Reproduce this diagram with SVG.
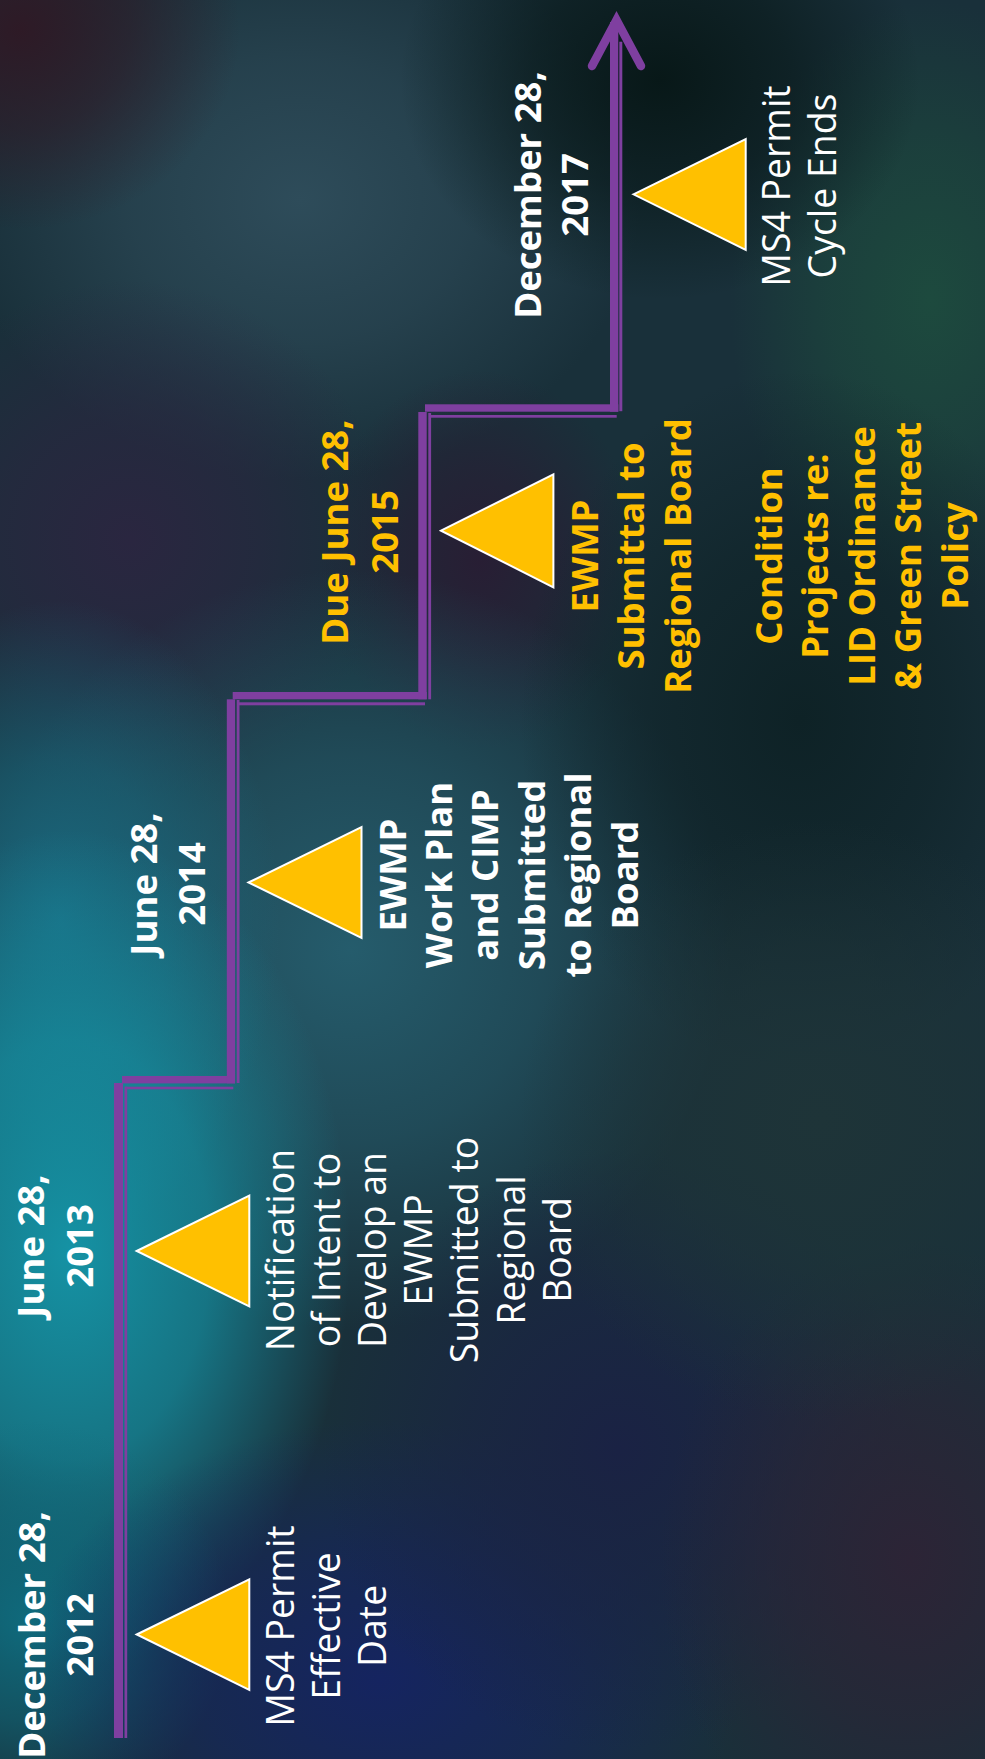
<svg xmlns="http://www.w3.org/2000/svg" width="985" height="1759" viewBox="0 0 985 1759">
<defs>
<style>
.b{font-family:"Open Sans","Liberation Sans",sans-serif;font-weight:700;font-size:36.5px;fill:#ffffff;text-anchor:middle}
.r{font-family:"Open Sans","Liberation Sans",sans-serif;font-weight:400;font-size:37.4px;fill:#ffffff;text-anchor:middle}
.y{fill:#ffc000}
.tri{fill:#ffc000;stroke:#ffffff;stroke-width:2;stroke-linejoin:miter}
.ln{fill:#7f3fa0}
</style>
<radialGradient id="g1"><stop offset="0" stop-color="#2e4c5a" stop-opacity="1"/><stop offset="0.5" stop-color="#2e4c5a" stop-opacity="0.6"/><stop offset="1" stop-color="#2e4c5a" stop-opacity="0"/></radialGradient>
<radialGradient id="g2"><stop offset="0" stop-color="#2e1a26" stop-opacity="1"/><stop offset="0.5" stop-color="#2e1a26" stop-opacity="0.6"/><stop offset="1" stop-color="#2e1a26" stop-opacity="0"/></radialGradient>
<radialGradient id="g3"><stop offset="0" stop-color="#2a2640" stop-opacity="1"/><stop offset="0.5" stop-color="#2a2640" stop-opacity="0.6"/><stop offset="1" stop-color="#2a2640" stop-opacity="0"/></radialGradient>
<radialGradient id="g4"><stop offset="0" stop-color="#281e34" stop-opacity="1"/><stop offset="0.5" stop-color="#281e34" stop-opacity="0.6"/><stop offset="1" stop-color="#281e34" stop-opacity="0"/></radialGradient>
<radialGradient id="g5"><stop offset="0" stop-color="#255c6c" stop-opacity="1"/><stop offset="0.5" stop-color="#255c6c" stop-opacity="0.6"/><stop offset="1" stop-color="#255c6c" stop-opacity="0"/></radialGradient>
<radialGradient id="g6"><stop offset="0" stop-color="#1a6a80" stop-opacity="1"/><stop offset="0.5" stop-color="#1a6a80" stop-opacity="0.6"/><stop offset="1" stop-color="#1a6a80" stop-opacity="0"/></radialGradient>
<radialGradient id="g7"><stop offset="0" stop-color="#1592a4" stop-opacity="1"/><stop offset="0.5" stop-color="#1592a4" stop-opacity="0.7"/><stop offset="1" stop-color="#1592a4" stop-opacity="0"/></radialGradient>
<radialGradient id="g8"><stop offset="0" stop-color="#152460" stop-opacity="1"/><stop offset="0.5" stop-color="#152460" stop-opacity="0.6"/><stop offset="1" stop-color="#152460" stop-opacity="0"/></radialGradient>
<radialGradient id="g9"><stop offset="0" stop-color="#1a2244" stop-opacity="1"/><stop offset="0.5" stop-color="#1a2244" stop-opacity="0.6"/><stop offset="1" stop-color="#1a2244" stop-opacity="0"/></radialGradient>
<radialGradient id="g10"><stop offset="0" stop-color="#2c2436" stop-opacity="1"/><stop offset="0.5" stop-color="#2c2436" stop-opacity="0.6"/><stop offset="1" stop-color="#2c2436" stop-opacity="0"/></radialGradient>
<radialGradient id="g11"><stop offset="0" stop-color="#1d4a3e" stop-opacity="1"/><stop offset="0.5" stop-color="#1d4a3e" stop-opacity="0.6"/><stop offset="1" stop-color="#1d4a3e" stop-opacity="0"/></radialGradient>
<radialGradient id="g12"><stop offset="0" stop-color="#081818" stop-opacity="1"/><stop offset="0.5" stop-color="#081818" stop-opacity="0.6"/><stop offset="1" stop-color="#081818" stop-opacity="0"/></radialGradient>
<radialGradient id="g13"><stop offset="0" stop-color="#0e2226" stop-opacity="1"/><stop offset="0.5" stop-color="#0e2226" stop-opacity="0.6"/><stop offset="1" stop-color="#0e2226" stop-opacity="0"/></radialGradient>
<radialGradient id="g14"><stop offset="0" stop-color="#1e3438" stop-opacity="1"/><stop offset="0.5" stop-color="#1e3438" stop-opacity="0.6"/><stop offset="1" stop-color="#1e3438" stop-opacity="0"/></radialGradient>
<radialGradient id="g15"><stop offset="0" stop-color="#0f6a7c" stop-opacity="1"/><stop offset="0.5" stop-color="#0f6a7c" stop-opacity="0.6"/><stop offset="1" stop-color="#0f6a7c" stop-opacity="0"/></radialGradient>
</defs>
<g id="background">
<rect x="0" y="0" width="985" height="1759" fill="#19303a"/>
<ellipse cx="300" cy="200" rx="340" ry="280" fill="url(#g1)"/>
<ellipse cx="20" cy="30" rx="220" ry="200" fill="url(#g2)"/>
<ellipse cx="130" cy="540" rx="260" ry="260" fill="url(#g3)"/>
<ellipse cx="480" cy="560" rx="160" ry="190" fill="url(#g4)"/>
<ellipse cx="350" cy="950" rx="380" ry="380" fill="url(#g5)"/>
<ellipse cx="60" cy="920" rx="220" ry="320" fill="url(#g6)"/>
<ellipse cx="70" cy="1250" rx="280" ry="420" fill="url(#g7)"/>
<ellipse cx="30" cy="1620" rx="200" ry="200" fill="url(#g15)"/>
<ellipse cx="380" cy="1680" rx="360" ry="260" fill="url(#g8)"/>
<ellipse cx="620" cy="1450" rx="300" ry="300" fill="url(#g9)"/>
<ellipse cx="910" cy="1560" rx="250" ry="320" fill="url(#g10)"/>
<ellipse cx="930" cy="300" rx="200" ry="300" fill="url(#g11)"/>
<ellipse cx="660" cy="80" rx="260" ry="220" fill="url(#g12)"/>
<ellipse cx="800" cy="720" rx="280" ry="350" fill="url(#g13)"/>
<ellipse cx="820" cy="1120" rx="300" ry="300" fill="url(#g14)"/>
</g>
<g id="connectors">
<rect class="ln" x="114" y="1083" width="9" height="655"/>
<rect class="ln" x="122" y="1076" width="113" height="7.4"/>
<rect class="ln" x="226.8" y="699.3" width="8.3" height="384"/>
<rect class="ln" x="232.7" y="692" width="194" height="7.3"/>
<rect class="ln" x="418.3" y="412" width="8.4" height="287.3"/>
<rect class="ln" x="425" y="404.3" width="193.3" height="7.4"/>
<rect class="ln" x="610" y="22" width="8.3" height="389.7"/>
<rect class="ln" x="124.5" y="1086.5" width="2.7" height="651.5"/>
<rect class="ln" x="126.7" y="1086.7" width="106.6" height="2.6"/>
<rect class="ln" x="236.7" y="700" width="2.8" height="383"/>
<rect class="ln" x="238" y="702.3" width="187" height="3"/>
<rect class="ln" x="428.3" y="413" width="2.8" height="286.3"/>
<rect class="ln" x="429" y="415" width="187.7" height="2.7"/>
<rect class="ln" x="619.3" y="41.7" width="3" height="369.5"/>
<path d="M592,66 L616.5,20 L641,66" fill="none" stroke="#7f3fa0" stroke-width="8.5" stroke-linecap="round" stroke-linejoin="miter"/>
</g>
<g id="node-2012">
<polygon class="tri" points="136.7,1634.5 249.3,1579.3 249.3,1690"/>
<g transform="translate(45,1635) rotate(-90)"><text class="b"><tspan x="0" y="0">December 28,</tspan><tspan x="0" y="48">2012</tspan></text></g>
<g transform="translate(294,1626) rotate(-90)"><text class="r"><tspan x="0" y="0">MS4 Permit</tspan><tspan x="0" y="46.2">Effective</tspan><tspan x="0" y="92.4">Date</tspan></text></g>
</g>
<g id="node-2013">
<polygon class="tri" points="136.7,1251 249.3,1195.5 249.3,1306.5"/>
<g transform="translate(44,1246) rotate(-90)"><text class="b"><tspan x="0" y="0">June 28,</tspan><tspan x="0" y="49">2013</tspan></text></g>
<g transform="translate(293.5,1250) rotate(-90)"><text class="r"><tspan x="0" y="0">Notification</tspan><tspan x="0" y="46.2">of Intent to</tspan><tspan x="0" y="92.4">Develop an</tspan><tspan x="0" y="138.6">EWMP</tspan><tspan x="0" y="184.8">Submitted to</tspan><tspan x="0" y="231">Regional</tspan><tspan x="0" y="277.2">Board</tspan></text></g>
</g>
<g id="node-2014">
<polygon class="tri" points="248.5,882.5 361.5,827 361.5,938"/>
<g transform="translate(157,884) rotate(-90)"><text class="b"><tspan x="0" y="0">June 28,</tspan><tspan x="0" y="48">2014</tspan></text></g>
<g transform="translate(405.5,875) rotate(-90)"><text class="b"><tspan x="0" y="0">EWMP</tspan><tspan x="0" y="46.4">Work Plan</tspan><tspan x="0" y="92.8">and CIMP</tspan><tspan x="0" y="139.2">Submitted</tspan><tspan x="0" y="185.6">to Regional</tspan><tspan x="0" y="232">Board</tspan></text></g>
</g>
<g id="node-2015">
<polygon class="tri" points="441,530.7 553.4,474.3 553.4,587.3"/>
<g transform="translate(348,532) rotate(-90)"><text class="b y"><tspan x="0" y="0">Due June 28,</tspan><tspan x="0" y="50">2015</tspan></text></g>
<g transform="translate(598,556) rotate(-90)"><text class="b y"><tspan x="0" y="0">EWMP</tspan><tspan x="0" y="46.3">Submittal to</tspan><tspan x="0" y="92.6">Regional Board</tspan></text></g>
<g transform="translate(782,556) rotate(-90)"><text class="b y"><tspan x="0" y="0">Condition</tspan><tspan x="0" y="46.4">Projects re:</tspan><tspan x="0" y="92.8">LID Ordinance</tspan><tspan x="0" y="139.2">&amp; Green Street</tspan><tspan x="0" y="185.6">Policy</tspan></text></g>
</g>
<g id="node-2017">
<polygon class="tri" points="633.5,194.3 745.7,139 745.7,250"/>
<g transform="translate(541,195) rotate(-90)"><text class="b"><tspan x="0" y="0">December 28,</tspan><tspan x="0" y="47">2017</tspan></text></g>
<g transform="translate(790,186) rotate(-90)"><text class="r"><tspan x="0" y="0">MS4 Permit</tspan><tspan x="0" y="45.5">Cycle Ends</tspan></text></g>
</g>
</svg>
